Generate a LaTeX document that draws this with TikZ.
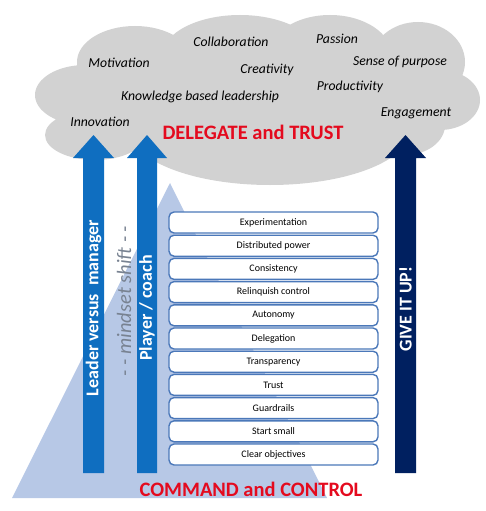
\documentclass[tikz,border=0pt]{standalone}
\usepackage{fontspec}
\setmainfont{Carlito}
\usepackage{tikz}
\usetikzlibrary{positioning}

\definecolor{cloudgray}{RGB}{210,210,210}
\definecolor{pyramid}{RGB}{183,200,230}
\definecolor{lightblue}{RGB}{15,110,192}
\definecolor{darkblue}{RGB}{0,32,96}
\definecolor{boxline}{RGB}{75,120,185}
\definecolor{titlered}{RGB}{228,10,30}
\definecolor{shiftgray}{RGB}{120,130,145}

\begin{document}
\begin{tikzpicture}[x=1pt, y=-1pt,
stepbox/.style={rectangle, draw=boxline, line width=1.4pt, fill=white, rounded corners=5pt, minimum width=209pt, minimum height=21pt, inner sep=0pt, font=\fontsize{10}{12}\selectfont},
word/.style={font=\fontsize{13.7}{16}\selectfont\itshape},
title/.style={text=titlered, font=\fontsize{20.5}{24}\selectfont\bfseries},
vtext/.style={rotate=90, text=white, font=\fontsize{18}{21}\selectfont\bfseries},
lightarrow/.style={fill=lightblue},
darkarrow/.style={fill=darkblue}
]
\useasboundingbox (0,0) rectangle (486,511);

% cloud
\fill[cloudgray]
  (85,95) ellipse [x radius=50pt, y radius=30pt]
  (95,135) ellipse [x radius=50pt, y radius=25pt]
  (135,62) ellipse [x radius=58pt, y radius=36pt]
  (240,56) ellipse [x radius=78pt, y radius=41pt]
  (330,56) ellipse [x radius=62pt, y radius=41pt]
  (418,62) ellipse [x radius=47pt, y radius=40pt]
  (440,100) ellipse [x radius=40pt, y radius=30pt]
  (405,125) ellipse [x radius=40pt, y radius=30pt]
  (270,130) ellipse [x radius=140pt, y radius=55pt]
  (250,95) ellipse [x radius=180pt, y radius=55pt];

% pyramid
\fill[pyramid] (170,183) -- (327,498) -- (12,498) -- cycle;

% arrows
\fill[lightarrow] (83,473) -- (83,158) -- (73,158) -- (93.5,135) -- (114,158) -- (104,158) -- (104,473) -- cycle;
\fill[lightarrow] (137,473) -- (137,158) -- (127,158) -- (147,135) -- (167,158) -- (157,158) -- (157,473) -- cycle;
\fill[darkarrow] (395,473) -- (395,158) -- (385,158) -- (405.5,135) -- (426,158) -- (416,158) -- (416,473) -- cycle;

\node (leader) [vtext] at (93.5,308) {Leader versus\ \ manager};
\node (player) [vtext] at (147,308) {Player / coach};
\node (giveup) [vtext] at (405.5,309) {GIVE IT UP!};
\node (shift) [rotate=90, text=shiftgray, font=\fontsize{20.5}{23}\selectfont\itshape] at (124,301) {- - mindset shift - -};

% cloud words
\node (collab) [word] at (231,42) {Collaboration};
\node (passion) [word] at (337,39) {Passion};
\node (motiv) [word] at (119,63) {Motivation};
\node (creat) [word] at (267,70) {Creativity};
\node (purpose) [word] at (400,62) {Sense of purpose};
\node (product) [word] at (350,87) {Productivity};
\node (knowl) [word] at (200,97) {Knowledge based leadership};
\node (engage) [word] at (416,113) {Engagement};
\node (innov) [word] at (100,122) {Innovation};

\node (delegate) [title] at (253,132) {DELEGATE and TRUST};
\node (command) [title] at (251,489) {COMMAND and CONTROL};

% steps
\foreach \txt [count=\i] in {Experimentation, Distributed power, Consistency, Relinquish control, Autonomy, Delegation, Transparency, Trust, Guardrails, Start small, Clear objectives}
  \node (step\i) [stepbox] at (273.5,{222.5+23.2*(\i-1)}) {\txt};
\end{tikzpicture}
\end{document}
